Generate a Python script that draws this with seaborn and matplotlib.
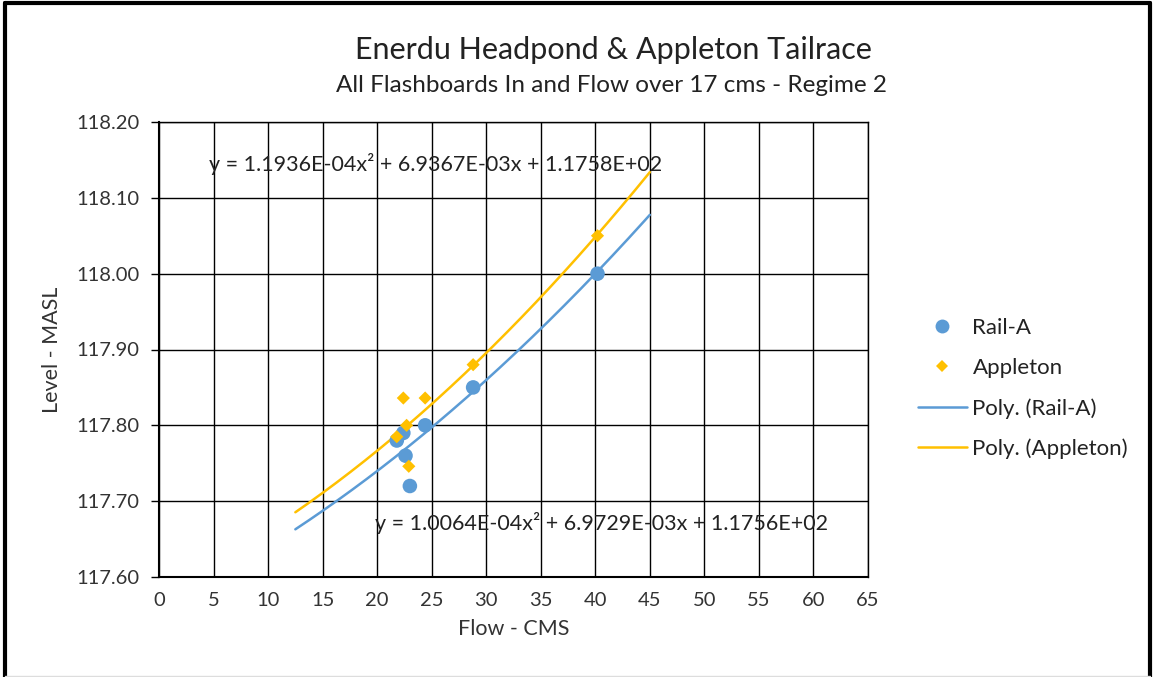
import numpy as np
import pandas as pd
import matplotlib
matplotlib.use("Agg")
import matplotlib.pyplot as plt
import seaborn as sns
from matplotlib.lines import Line2D

# Data
rail_flow = [21.8, 22.4, 22.6, 23.0, 24.4, 28.8, 40.2]
rail_level = [117.78, 117.79, 117.76, 117.72, 117.80, 117.85, 118.00]
app_flow = [21.8, 22.4, 22.7, 22.9, 24.4, 28.8, 40.2]
app_level = [117.785, 117.836, 117.80, 117.746, 117.836, 117.88, 118.05]
rail_coef = [1.0064e-04, 6.9729e-03, 1.1756e+02]
app_coef = [1.1936e-04, 6.9367e-03, 1.1758e+02]
trend_range = [12.5, 45.0]
x_ticks = list(range(0, 70, 5))
y_ticks = [117.60, 117.70, 117.80, 117.90, 118.00, 118.10, 118.20]

BLUE = "#5B9BD5"
GOLD = "#FFC000"

sns.set_theme(style="white")
plt.rcParams['font.family'] = ['Lato', 'DejaVu Sans']

fig = plt.figure(figsize=(11.54, 6.77), dpi=100)
ax = fig.add_axes([159/1154, 1 - 577/677, (868-159)/1154, (577-122)/677])

xs = np.linspace(trend_range[0], trend_range[1], 200)
trend_df = pd.concat([
    pd.DataFrame({"x": xs, "y": np.polyval(rail_coef, xs), "s": "Poly. (Rail-A)"}),
    pd.DataFrame({"x": xs, "y": np.polyval(app_coef, xs), "s": "Poly. (Appleton)"}),
])
sns.lineplot(data=trend_df, x="x", y="y", hue="s",
             palette={"Poly. (Rail-A)": BLUE, "Poly. (Appleton)": GOLD},
             linewidth=1.8, ax=ax, legend=False, zorder=3)

sns.scatterplot(x=rail_flow, y=rail_level, color=BLUE, marker="o", s=110,
                edgecolor="none", ax=ax, zorder=4)
sns.scatterplot(x=app_flow, y=app_level, color=GOLD, marker="D", s=45,
                edgecolor="none", ax=ax, zorder=5)

ax.set_xlim(0, 65)
ax.set_ylim(117.60, 118.20)
ax.set_xticks(x_ticks)
ax.set_yticks(y_ticks)
ax.set_xticklabels([str(t) for t in x_ticks])
ax.set_yticklabels([f"{t:.2f}" for t in y_ticks])
ax.grid(True, color="black", linewidth=1.0)
ax.set_axisbelow(True)
for sp in ax.spines.values():
    sp.set_color("black")
    sp.set_linewidth(1.0)
ax.spines['left'].set_linewidth(1.5)
ax.spines['bottom'].set_linewidth(1.5)
ax.tick_params(axis='y', which='major', left=True, length=6, width=1, color="black",
               labelsize=14.5, pad=8, labelcolor="#333333")
ax.tick_params(axis='x', which='major', bottom=True, length=0, labelsize=14.5, pad=11,
               labelcolor="#333333")
ax.set_xlabel("Flow - CMS", fontsize=15.5, color="#333333", labelpad=7)
ax.set_ylabel("Level - MASL", fontsize=15.5, color="#333333", labelpad=10)

ax.text(4.6, 118.145, "y = 1.1936E-04x² + 6.9367E-03x + 1.1758E+02",
        fontsize=15.5, color="#222222", va="center", ha="left")
ax.text(19.8, 117.671, "y = 1.0064E-04x² + 6.9729E-03x + 1.1756E+02",
        fontsize=15.5, color="#222222", va="center", ha="left")

fig.text(613/1154, 1 - 50/677, "Enerdu Headpond & Appleton Tailrace", ha="center", va="center",
         fontsize=22, color="#222222")
fig.text(611/1154, 1 - 85/677, "All Flashboards In and Flow over 17 cms - Regime 2", ha="center",
         va="center", fontsize=17.5, color="#222222")

handles = [
    Line2D([], [], marker="o", color=BLUE, linestyle="none", markersize=10, markeredgewidth=0),
    Line2D([], [], marker="D", color=GOLD, linestyle="none", markersize=6, markeredgewidth=0),
    Line2D([], [], color=BLUE, linewidth=1.8),
    Line2D([], [], color=GOLD, linewidth=1.8),
]
labels = ["Rail-A", "Appleton", "Poly. (Rail-A)", "Poly. (Appleton)"]
fig.legend(handles, labels, loc="upper left", bbox_to_anchor=(898/1154, 1 - 298/677),
           frameon=False, fontsize=16, handlelength=2.2, labelspacing=0.9,
           handletextpad=0.25, labelcolor="#222222")

# outer frame
fig.add_artist(Line2D([5/1154, 5/1154], [0, 1 - 3/677], transform=fig.transFigure, color="black", linewidth=3))
fig.add_artist(Line2D([5/1154, 1150/1154], [1 - 3/677, 1 - 3/677], transform=fig.transFigure, color="black", linewidth=3))
fig.add_artist(Line2D([1150/1154, 1150/1154], [0, 1 - 3/677], transform=fig.transFigure, color="black", linewidth=3))
fig.add_artist(Line2D([5/1154, 1150/1154], [1/677, 1/677], transform=fig.transFigure, color="#dddddd", linewidth=1))

fig.savefig("out.png", dpi=100, facecolor="white")
